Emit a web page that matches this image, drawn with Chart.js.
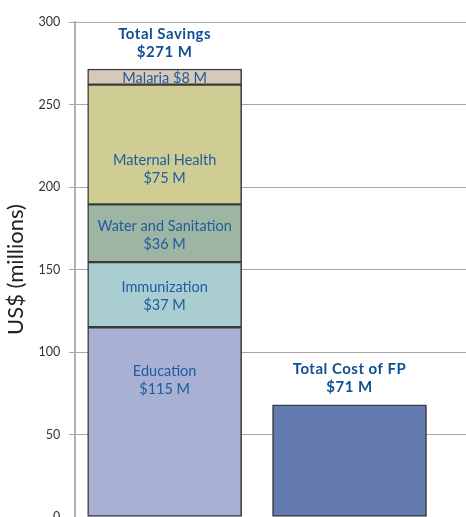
<!DOCTYPE html>
<html>
<head>
<meta charset="utf-8">
<script src="https://cdn.jsdelivr.net/npm/chart.js@4"></script>
<style>
html, body { margin: 0; padding: 0; background: #fff; overflow: hidden; }
#caja { position: relative; width: 466px; height: 545px; }
</style>
</head>
<body>
<div id="caja"><canvas id="grafica"></canvas></div>
<script>
// datos
const segmentos = ['Education', 'Immunization', 'Water and Sanitation', 'Maternal Health', 'Malaria'];
const valoresAhorro = [115, 39.5, 35, 72.5, 9.5];
const etiquetasMonto = ['$115 M', '$37 M', '$36 M', '$75 M', '$8 M'];
const totalAhorro = ['Total Savings', '$271 M'];
const costoFP = [68];
const totalCosto = ['Total Cost of FP', '$71 M'];
const ticksY = [0, 50, 100, 150, 200, 250, 300];

const colores = ['#a8b0d4', '#a9cdd0', '#9fb5a3', '#cfcd93', '#d7c9b9'];
const colorFP = '#637bb1';
const azulTexto = '#1d5c9e';
const azulFuerte = '#0f4f93';
const fuente = 'Lato, "Open Sans", sans-serif';

// posicion vertical de cada etiqueta (en unidades del eje)
const alturaEtiqueta = [83, 134, 171, 211];

function barra(nombre, x, valor, color) {
    return {
        label: nombre,
        data: [{x: x, y: valor}],
        backgroundColor: color,
        borderColor: '#3a3a3a',
        borderWidth: 1.5,
        borderSkipped: false,
        barThickness: 154,
        grouped: false
    };
}

let datasets = segmentos.map((nombre, i) => barra(nombre, 1, valoresAhorro[i], colores[i]));
datasets.push(barra('Total Cost of FP', 2, costoFP[0], colorFP));

const etiquetas = {
    id: 'etiquetas',
    afterDatasetsDraw(chart) {
        const ctx = chart.ctx;
        const x = chart.scales.x;
        const y = chart.scales.y;
        ctx.save();
        ctx.textAlign = 'center';
        ctx.textBaseline = 'middle';

        // segmentos de la barra de ahorro
        ctx.fillStyle = azulTexto;
        ctx.font = '14.5px ' + fuente;
        const cx = x.getPixelForValue(1);
        for (let i = 0; i < 4; i++) {
            const py = y.getPixelForValue(alturaEtiqueta[i]);
            ctx.fillText(segmentos[i], cx, py - 9);
            ctx.fillText(etiquetasMonto[i], cx, py + 9);
        }
        let acumulado = valoresAhorro.slice(0, 4).reduce((a, b) => a + b, 0);
        const pyMalaria = y.getPixelForValue(acumulado + valoresAhorro[4] / 2);
        ctx.fillText(segmentos[4] + ' ' + etiquetasMonto[4], cx, pyMalaria + 1);

        // totales sobre las barras
        ctx.fillStyle = azulFuerte;
        ctx.font = 'bold 15px ' + fuente;
        ctx.letterSpacing = '0.5px';
        const total = valoresAhorro.reduce((a, b) => a + b, 0);
        let top = y.getPixelForValue(total);
        ctx.fillText(totalAhorro[0], cx, top - 35);
        ctx.fillText(totalAhorro[1], cx, top - 17);

        const cx2 = x.getPixelForValue(2);
        top = y.getPixelForValue(costoFP[0]);
        ctx.fillText(totalCosto[0], cx2, top - 36);
        ctx.fillText(totalCosto[1], cx2, top - 18);
        ctx.restore();
    }
};

document.addEventListener('DOMContentLoaded', () => {
    new Chart(document.getElementById('grafica'), {
        type: 'bar',
        data: {datasets: datasets},
        options: {
            responsive: true,
            maintainAspectRatio: false,
            animation: false,
            layout: {padding: {top: 22, right: 0, bottom: 28, left: 0}},
            plugins: {
                legend: {display: false},
                tooltip: {enabled: false}
            },
            scales: {
                x: {
                    type: 'linear',
                    display: false,
                    offset: false,
                    min: 0.516,
                    max: 2.63
                },
                y: {
                    stacked: true,
                    min: 0,
                    max: 300,
                    afterBuildTicks: (eje) => { eje.ticks = ticksY.map(v => ({value: v})); },
                    ticks: {
                        color: '#333',
                        font: {family: fuente, size: 12.5},
                        padding: 9
                    },
                    grid: {
                        color: '#a6a6a6',
                        lineWidth: 1,
                        tickLength: 6
                    },
                    border: {color: '#b0b0b0', width: 2},
                    title: {
                        display: true,
                        text: 'US$ (millions)',
                        color: '#222',
                        font: {family: fuente, size: 22},
                        padding: {top: 3, bottom: 0}
                    }
                }
            }
        },
        plugins: [etiquetas]
    });
});
</script>
</body>
</html>
